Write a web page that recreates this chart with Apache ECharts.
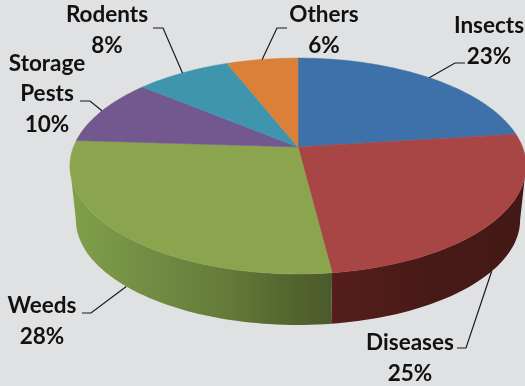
<!DOCTYPE html>
<html>
<head>
<meta charset="utf-8">
<style>html,body{margin:0;padding:0;background:#e0e1e3}#chart{width:525px;height:386px}</style>
<script src="https://cdn.jsdelivr.net/npm/echarts@6/dist/echarts.min.js"></script>
</head>
<body>
<div id="chart"></div>
<script>
// Share of crop losses by cause, clockwise from twelve o'clock.
var categories = ['Insects', 'Diseases', 'Weeds', 'Storage\nPests', 'Rodents', 'Others'];
var shares = [23, 25, 28, 10, 8, 6];
var topColors = ['#3e70a9', '#a84545', '#8aa54e', '#72588f', '#3f95ae', '#da8038'];

// Disc projection: top rim and a slightly smaller bottom rim, seen in perspective.
var view = { cx: 298, cy: 147, baseCy: 201.3, rx: 224.5, ry: 104.6, baseScale: 0.974, k: 0.176 };

// Wall shading per slice, sampled left to right across the visible rim.
var wallStops = [
  [[0, '#3a6494'], [1, '#2e4f75']],
  [[0, '#551e1c'], [0.5, '#481a17'], [1, '#431815']],
  [[0, '#81a04a'], [0.3, '#728d43'], [0.6, '#647a3a'], [0.8, '#55692f'], [1, '#4b5a2b']],
  [[0, '#5a4671'], [1, '#5a4671']],
  [[0, '#327688'], [1, '#327688']],
  [[0, '#ad652c'], [1, '#ad652c']]
];

// Label blocks: text centre, then the elbow and free end of the leader line.
var labelLayout = [
  { x: 489, y: 41, elbow: [455, 63], end: [465, 63] },
  { x: 410, y: 358, elbow: [466, 348], end: [457, 348] },
  { x: 42, y: 321, elbow: [91, 313], end: [82, 313] },
  { x: 47, y: 94, elbow: [90, 101], end: [80, 101] },
  { x: 107, y: 30, elbow: [163, 28], end: [153, 28] },
  { x: 324, y: 30, elbow: [277, 28], end: [287, 28] }
];

var total = shares.reduce(function (a, b) { return a + b; }, 0);
var bounds = [0];
shares.forEach(function (s, i) { bounds.push(bounds[i] + s / total); });

// Fractions of a turn where the rim reaches its right and left extremes:
// only the stretch between them faces the viewer.
var frontFrom = Math.acos(-view.k) / (Math.PI * 2);
var frontTo = 1 - frontFrom;

function project(frac, isBase) {
  var t = frac * Math.PI * 2;
  var u = Math.sin(t), v = -Math.cos(t);
  var d = 1 - view.k * v;
  var s = isBase ? view.baseScale : 1;
  return [
    view.cx + s * view.rx * u / d,
    (isBase ? view.baseCy : view.cy) + s * view.ry * v / d
  ];
}

function rim(from, to, isBase) {
  var pts = [], n = Math.max(8, Math.ceil((to - from) * 240));
  for (var i = 0; i <= n; i++) pts.push(project(from + (to - from) * i / n, isBase));
  return pts;
}

function renderWall(params) {
  var i = params.dataIndex;
  var a = Math.max(bounds[i], frontFrom), b = Math.min(bounds[i + 1], frontTo);
  if (b <= a) return null;
  var pts = rim(a, b, false).concat(rim(a, b, true).reverse());
  var xs = pts.map(function (p) { return p[0]; });
  var stops = wallStops[i].map(function (s) { return { offset: s[0], color: s[1] }; });
  var fill = new echarts.graphic.LinearGradient(
    Math.min.apply(null, xs), 0, Math.max.apply(null, xs), 0, stops, true
  );
  return { type: 'polygon', shape: { points: pts }, style: { fill: fill, stroke: null } };
}

function renderTop(params) {
  var i = params.dataIndex;
  var pts = [[view.cx, view.cy]].concat(rim(bounds[i], bounds[i + 1], false));
  return {
    type: 'polygon',
    shape: { points: pts },
    style: { fill: topColors[i], stroke: topColors[i], lineWidth: 0.5 }
  };
}

function renderLabel(params) {
  var i = params.dataIndex;
  var mid = (bounds[i] + bounds[i + 1]) / 2;
  // Front slices anchor their leader on the lower rim, back slices on the top rim.
  var anchor = project(mid, Math.cos(mid * Math.PI * 2) < 0);
  var l = labelLayout[i];
  return {
    type: 'group',
    children: [
      {
        type: 'polyline',
        shape: { points: [anchor, l.elbow, l.end] },
        style: { fill: null, stroke: '#1a1a1a', lineWidth: 1.2 }
      },
      {
        type: 'text',
        style: {
          text: categories[i] + '\n' + shares[i] + '%',
          x: l.x, y: l.y,
          align: 'center', verticalAlign: 'middle',
          font: 'bold 22.5px Lato, sans-serif',
          lineHeight: 30.5,
          fill: '#111111'
        }
      }
    ]
  };
}

var chart = echarts.init(document.getElementById('chart'), null, { renderer: 'canvas' });
var rows = shares.map(function (s, i) { return [s, i]; });
chart.setOption({
  animation: false,
  backgroundColor: '#e0e1e3',
  series: [
    { type: 'custom', coordinateSystem: 'none', z: 1, silent: true, data: rows, renderItem: renderWall },
    { type: 'custom', coordinateSystem: 'none', z: 2, silent: true, data: rows, renderItem: renderTop },
    { type: 'custom', coordinateSystem: 'none', z: 3, silent: true, data: rows, renderItem: renderLabel }
  ]
});
</script>
</body>
</html>
